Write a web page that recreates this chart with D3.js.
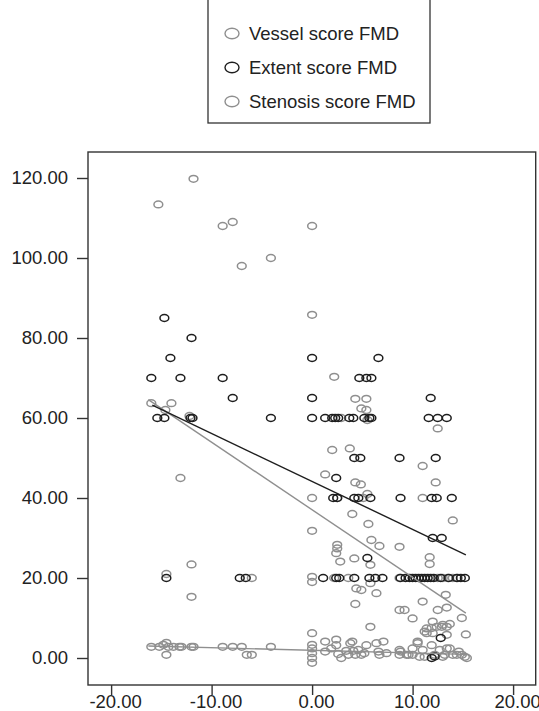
<!DOCTYPE html>
<html>
<head>
<meta charset="utf-8">
<script src="https://cdn.jsdelivr.net/npm/d3@7"></script>
<style>
html,body{margin:0;padding:0;background:#fff;}
svg{display:block;}
text{font-family:"Liberation Sans",Arial,sans-serif;fill:#222;}
</style>
</head>
<body>
<svg id="chart" width="539" height="711"></svg>
<script>
// ---- Data ----
const legendLabels = ["Vessel score FMD", "Extent score FMD", "Stenosis score FMD"];
const xTicks = [-20, -10, 0, 10, 20];
const yTicks = [0, 20, 40, 60, 80, 100, 120];

const extent = [
  [-14.7,85],[-14.1,75],[-16.0,70],[-13.1,70],[-12.0,80],[0,75],[-8.9,70],[-7.9,65],[0,65],
  [4.7,70],[5.4,70],[5.9,70],[6.6,75],[11.8,65],
  [-15.4,60],[-14.7,60],[-12.1,60],[-11.9,60],[-4.1,60],[0,60],[1.3,60],[2.0,60],[2.3,60],[2.6,60],
  [3.7,60],[4.1,60],[5.2,60],[5.7,60],[5.9,60],[11.6,60],[12.5,60],[13.4,60],
  [4.2,50],[4.8,50],[8.7,50],[12.3,50],
  [2.4,45],
  [2.1,40],[2.5,40],[4.2,40],[4.6,40],[5.8,40],[8.8,40],[11.9,40],[12.4,40],[13.9,40],
  [12.0,30],[12.9,30],
  [5.5,25],
  [-14.5,20],[-7.2,20],[-6.6,20],[1.1,20],[2.4,20],[2.7,20],[4.2,20],[5.7,20],[6.3,20],[7.0,20],[8.8,20],
  [9.3,20],[9.7,20],[10.0,20],[10.3,20],[10.6,20],[10.9,20],[11.2,20],[11.5,20],[11.8,20],[12.1,20],
  [12.8,20],[13.6,20],[14.4,20],[14.8,20],[15.2,20],
  [12.8,5],[11.9,0],[12.2,0.4]
];

const vessel = [
  [-16.0,2.8],[-15.2,2.8],[-14.8,3.3],[-14.5,3.8],[-14.5,0.8],[-14.3,2.8],[-13.8,2.8],[-13.2,2.8],
  [-13.0,2.8],[-12.0,2.8],[-11.8,2.8],[-8.9,2.8],[-7.9,2.8],[-7.0,2.8],[-6.5,0.8],[-6.0,0.8],[-4.1,2.8],
  [0,6.2],[0,3.3],[0,2.4],[0,1.2],[0,0],[0,-1.2],
  [1.3,4.1],[1.3,1.6],[1.9,2.4],[2.4,4.6],[2.4,3.2],[2.6,1.0],[2.9,0],[3.4,1.8],[3.6,0.8],[3.8,3.7],
  [4.0,4.1],[4.1,1.8],[4.3,0.8],[4.6,2.0],[4.9,0.8],[5.2,1.2],[5.4,3.2],[6.4,3.7],[6.6,1.6],[6.7,0.8],
  [7.1,4.1],[7.4,1.2],[8.7,2.0],[8.8,1.6],[8.7,0.8],[9.4,0.8],[9.6,0.8],[10.0,2.4],[10.0,0.8],[10.5,4.1],
  [10.5,3.7],[10.7,0.3],[11.0,2.0],[11.2,0.3],[11.9,3.2],[12.2,0.8],[12.7,2.0],[13.0,0.3],[13.2,0.8],
  [13.4,2.4],[13.7,2.4],[14.0,0.8],[14.4,0.8],[14.6,1.6],[14.9,0.8],[15.2,0.3],[15.4,0]
];

const stenosis = [
  [-15.3,113.4],[-11.8,119.8],[-8.9,108],[-7.9,109],[0,108],[-7.0,98],[-4.1,100],[0,85.8],[2.2,70.3],
  [4.3,64.8],[5.4,64.8],[4.9,62.4],[5.4,62],[5.5,59.5],[2.9,60],[-16.0,63.7],[-14.0,63.7],[-14.6,62],
  [-12.2,60.5],[-13.1,45],[-12.0,23.4],[-12.0,15.3],[-14.5,21],[0,40],[0,31.8],[2.0,52],[3.75,52.4],
  [1.3,45.9],[4.3,43.9],[4.85,43.4],[5.5,41],[2.5,40],[5.1,40],[4.0,36],[5.6,33.5],[5.9,29.5],[2.5,28.3],
  [2.5,27.4],[2.4,26.2],[6.7,28],[8.7,27.8],[4.2,24.9],[2.8,24.1],[5.8,23.3],[4.9,17],[4.4,17.4],
  [5.8,18.7],[6.4,16.2],[4.3,13.5],[8.7,12],[5.8,7.8],[11.0,48],[12.3,43.9],[14.0,34.4],[11.7,25.2],
  [11.7,23.5],[13.3,15.8],[11.0,14.1],[12.5,12],[13.4,12.6],[9.2,12],[10.0,9.9],[14.9,10],[15.3,5.9],
  [11.4,7.4],[11.9,7.5],[12.4,7.8],[12.9,7.8],[13.4,7.8],[12.0,6.2],[13.4,5.8],[11.2,6.6],[11.4,6.2],
  [13.0,8.3],[13.7,8.5],[12.0,9.1],[12.5,57.4],[11.0,40],
  [0,20.3],[0,19],[-6.0,20],[2.2,20],[3.6,20],[8.7,20],[12.5,20],[13.0,20],[13.5,20],[14.0,20],[14.5,20]
];

// fit lines (endpoints)
const extentFitX = [-15.9, 15.3], extentFitY = [63.2, 25.8];
const stenosisFitX = [-16.3, 15.3], stenosisFitY = [64.6, 11.2];
const vesselFitX = [-16.3, 15.3], vesselFitY = [3.0, 0.9];

// ---- Drawing ----
const svg = d3.select("#chart");
const GRAY = "#8f8f8f", DARK = "#1e1e1e";
const fmt = d => d3.format(".2f")(d).replace("\u2212", "-");

const x = d3.scaleLinear().domain([-22.3, 22.25]).range([88, 535.7]);
const y = d3.scaleLinear().domain([-6.75, 126.5]).range([685, 152]);

// frame
svg.append("rect")
  .attr("x", x.range()[0]).attr("y", y.range()[1])
  .attr("width", x.range()[1] - x.range()[0])
  .attr("height", y.range()[0] - y.range()[1])
  .attr("fill", "none").attr("stroke", "#333").attr("stroke-width", 1.4);

// axes
const yAxis = d3.axisLeft(y).tickValues(yTicks).tickSize(11).tickPadding(9).tickFormat(fmt);
const gy = svg.append("g").attr("transform", `translate(${x.range()[0]},0)`).call(yAxis);
gy.select(".domain").remove();
gy.selectAll(".tick line").attr("stroke", "#333").attr("stroke-width", 1.4);
gy.selectAll(".tick text").attr("font-size", 18.5).attr("fill", "#222")
  .attr("font-family", '"Liberation Sans",Arial,sans-serif');

const xAxis = d3.axisBottom(x).tickValues(xTicks).tickSize(10).tickPadding(0).tickFormat(fmt);
const gx = svg.append("g").attr("transform", `translate(0,${y.range()[0]})`).call(xAxis);
gx.select(".domain").remove();
gx.selectAll(".tick line").attr("stroke", "#333").attr("stroke-width", 1.4);
gx.selectAll(".tick text").attr("font-size", 18.5).attr("fill", "#222").attr("dx", 4)
  .attr("font-family", '"Liberation Sans",Arial,sans-serif');

// points
function drawPoints(data, color) {
  svg.append("g").selectAll("ellipse").data(data).join("ellipse")
    .attr("cx", d => x(d[0])).attr("cy", d => y(d[1]))
    .attr("rx", 4.4).attr("ry", 3.4)
    .attr("fill", "none").attr("stroke", color).attr("stroke-width", 1.5);
}
drawPoints(stenosis, GRAY);
drawPoints(vessel, GRAY);
drawPoints(extent, DARK);

// fit lines
function drawFit(xs, ys, color) {
  const pts = xs.map((v, i) => [v, ys[i]]);
  svg.append("path").datum(pts)
    .attr("d", d3.line().x(d => x(d[0])).y(d => y(d[1])))
    .attr("fill", "none").attr("stroke", color).attr("stroke-width", 1.4);
}
drawFit(stenosisFitX, stenosisFitY, GRAY);
drawFit(vesselFitX, vesselFitY, GRAY);
drawFit(extentFitX, extentFitY, DARK);

// legend
const leg = svg.append("g");
leg.append("rect").attr("x", 208).attr("y", -5).attr("width", 222).attr("height", 128)
  .attr("fill", "#fff").attr("stroke", "#333").attr("stroke-width", 1.3);
const legColors = [GRAY, DARK, GRAY];
const legY = d3.scalePoint().domain(legendLabels).range([33.5, 101.5]);
legendLabels.forEach((lab, i) => {
  leg.append("ellipse").attr("cx", 232).attr("cy", legY(lab)).attr("rx", 7).attr("ry", 5.3)
    .attr("fill", "none").attr("stroke", legColors[i]).attr("stroke-width", 1.4);
  leg.append("text").attr("x", 249).attr("y", legY(lab) + 6)
    .attr("font-size", 18.5).text(lab);
});
</script>
</body>
</html>
